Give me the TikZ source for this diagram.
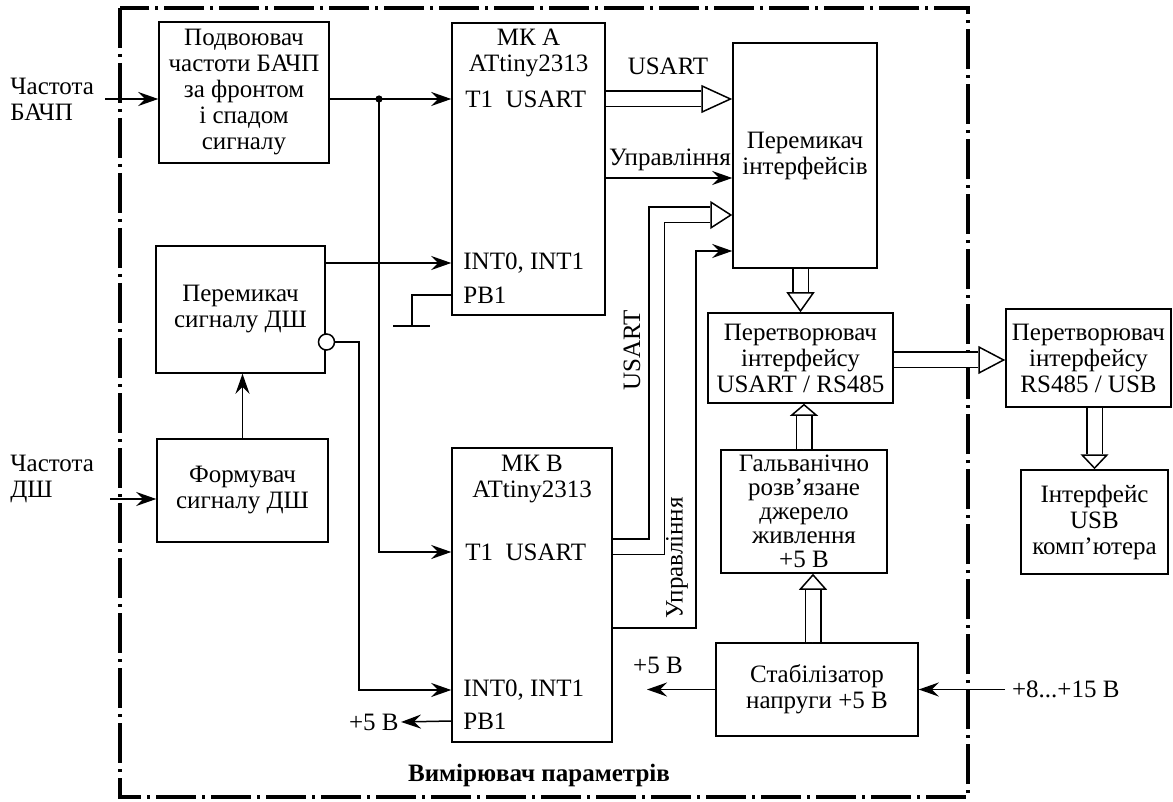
\documentclass[tikz,border=0pt]{standalone}
\usepackage{fontspec}
\setmainfont{Liberation Serif}
\usetikzlibrary{arrows.meta}

\begin{document}
\begin{tikzpicture}[x=0.5pt, y=-0.5pt,
  font={\fontsize{12.5}{13}\selectfont},
  >={Stealth[length=10pt, width=7pt, inset=3.5pt]},
  blk/.style={draw, line width=0.75pt, align=center, inner sep=0pt},
  pin/.style={anchor=west, inner sep=0pt},
  sig/.style={->, line width=0.75pt},
  wire/.style={line width=0.75pt},
  bus/.style={line width=8.5pt, shorten >=#1,
    postaction={draw=white, line width=7pt},
    postaction={draw=white, line width=0.75pt, shorten >=0pt,
      -{Triangle[color=black, fill=white, length=#1, width=14pt]}}},
  bus/.default=11pt,
  frame/.style={line width=1.6pt, dash pattern=on 20pt off 3pt on 1.5pt off 3pt},
  title/.style={font={\fontsize{12.5}{13}\selectfont\bfseries}}
]
\useasboundingbox (0,0) rectangle (1173,802);

% measuring unit: frame and title
\draw[frame] (120,8) rectangle (968,797);
\node[title] (meter) at (539,775) {Вимірювач параметрів};

% blocks
\node[blk, minimum width=85pt, minimum height=70.5pt] (dbl) at (244,92.5) {Подвоювач\\частоти БАЧП\\за фронтом\\і спадом\\сигналу};
\node[blk, minimum width=84.5pt, minimum height=63.5pt] (swDS) at (240.5,309.5) {Перемикач\\сигналу ДШ};
\node[blk, minimum width=85.5pt, minimum height=51.5pt] (fmDS) at (242.5,490.5) {Формувач\\сигналу ДШ};
\node[blk, minimum width=76.5pt, minimum height=146pt] (mcuA) at (528.5,169) {};
\node[blk, minimum width=80pt, minimum height=147pt] (mcuB) at (532,595) {};
\node[blk, minimum width=72pt, minimum height=112.5pt] (swIf) at (805,155.5) {Перемикач\\інтерфейсів};
\node[blk, minimum width=92.5pt, minimum height=45pt] (cnvA) at (800.5,358) {Перетворювач\\інтерфейсу\\USART / RS485};
\node[blk, minimum width=83pt, minimum height=61.5pt, font={\fontsize{12.5}{12}\selectfont}] (galv) at (804,511.5) {Гальванічно\\розв’язане\\джерело\\живлення\\+5 В};
\node[blk, minimum width=101pt, minimum height=46.5pt] (stab) at (817,689.5) {Стабілізатор\\напруги +5 В};
\node[blk, minimum width=82.5pt, minimum height=49pt] (cnvB) at (1088.5,358) {Перетворювач\\інтерфейсу\\RS485 / USB};
\node[blk, minimum width=73.5pt, minimum height=52pt] (usbPC) at (1094.5,522) {Інтерфейс\\USB\\комп’ютера};

% microcontroller labels and pins
\node[align=center] (mcuAname) at (528.5,53) {МК А\\ATtiny2313};
\node[pin] (mcuAt1) at (465,99) {T1~~USART};
\node[pin] (mcuAint) at (463,263) {INT0, INT1};
\node[pin] (mcuApb) at (463,295) {PB1};
\node[align=center] (mcuBname) at (532,479) {МК В\\ATtiny2313};
\node[pin] (mcuBt1) at (465,552) {T1~~USART};
\node[pin] (mcuBint) at (463,690) {INT0, INT1};
\node[pin] (mcuBpb) at (463,721) {PB1};

% inputs
\node[anchor=west, align=left, inner sep=0pt] (fBACHP) at (10,99) {Частота\\БАЧП};
\coordinate (inA) at (105,99);
\draw[sig] (inA) -- (inA -| dbl.west);
\node[anchor=west, align=left, inner sep=0pt] (fDS) at (10,479) {Частота\\ДШ};
\coordinate (inB) at (110,499);
\draw[sig] (inB) -- (inB -| fmDS.west);

% signal lines to the microcontrollers
\coordinate (jn) at (379,99);
\draw[sig] (dbl.east |- mcuAt1) -- (mcuA.west |- mcuAt1);
\fill (jn) circle (1.8pt);
\draw[sig] (jn) |- (mcuB.west |- mcuBt1);
\draw[sig] (swDS.east |- mcuAint) -- (mcuA.west |- mcuAint);
\draw[sig] (fmDS.north) -- (fmDS.north |- swDS.south);

\coordinate (gnd) at (412,326);
\draw[wire] (mcuA.west |- mcuApb) -| (gnd);
\draw[wire] ([xshift=-9.5pt]gnd) -- ([xshift=9pt]gnd);

\node[draw, circle, line width=0.75pt, minimum size=8pt, inner sep=0pt, fill=white] (inv) at (326.5,342) {};
\coordinate (bendB) at (359,342);
\draw[sig] (inv.east) -- (bendB) |- (mcuB.west |- mcuBint);

\node[anchor=east, inner sep=1pt] (pbOut) at (401,722) {+5 В};
\draw[sig] (mcuB.west |- mcuBpb) -- (pbOut.east);

% to the interface switch
\draw[bus=15.5pt] (mcuA.east |- mcuAt1) -- (swIf.west |- mcuAt1);
\node (lbUsartA) at (668,66) {USART};
\draw[sig] (mcuA.east |- 0,178) -- (swIf.west |- 0,178);
\node (lbCtlA) at (670,160) {Управління};

\draw[bus] (mcuB.east |- 0,546.5) -| (656.5,215) -- (swIf.west |- 0,215);
\node[rotate=90] (lbUsartB) at (632,350) {USART};
\draw[sig] (mcuB.east |- 0,628) -| (696,251) -- (swIf.west |- 0,251);
\node[rotate=90] (lbCtlB) at (677,558) {Управління};

% interface chain
\draw[bus=10pt] (cnvA.north |- swIf.south) -- (cnvA.north);
\draw[bus=6pt] (galv.north) -- (galv.north |- cnvA.south);
\draw[bus=8pt] ([xshift=-2pt]stab.north) -- ([xshift=-2pt]stab.north |- galv.south);
\draw[bus=13.5pt] (cnvA.east |- 0,360) -- (cnvB.west |- 0,360);
\draw[bus=7.5pt] (usbPC.north |- cnvB.south) -- (usbPC.north);

% power
\coordinate (vOut) at (647,689.5);
\draw[sig] (stab.west) -- (vOut);
\node (lbV5) at (658,665) {+5 В};
\node[anchor=west] (vIn) at (1005,689.5) {+8...+15 В};
\draw[sig] (vIn.west) -- (stab.east);

\end{tikzpicture}
\end{document}
